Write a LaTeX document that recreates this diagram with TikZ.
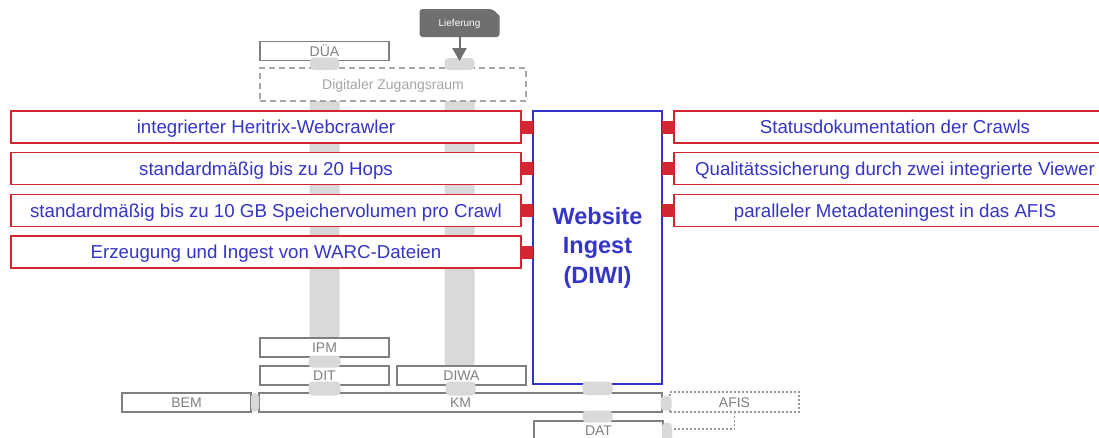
\documentclass[tikz,border=0pt]{standalone}
\usepackage{fontspec}
\setmainfont{Liberation Sans}
\usetikzlibrary{calc,arrows.meta}
\definecolor{redc}{HTML}{D32630}
\definecolor{bluet}{HTML}{3535C8}
\definecolor{blueb}{HTML}{3333CC}
\definecolor{grayb}{HTML}{7F7F7F}
\definecolor{grayt}{HTML}{808080}
\definecolor{padc}{HTML}{D9D9D9}
\definecolor{dzc}{HTML}{A6A6A6}
\definecolor{liefc}{HTML}{6F6F6F}
\definecolor{afisc}{HTML}{999999}
\begin{document}
\begin{tikzpicture}[x=1pt,y=-1pt,
  every node/.style={inner sep=0pt, outer sep=0pt},
  graybox/.style={draw=grayb, line width=1.6pt, fill=white, text=grayt,
    font=\fontsize{14}{16}\selectfont, text height=10pt, text depth=0pt,
    minimum width=129pt, minimum height=19pt},
  dzbox/.style={draw=dzc, line width=1.5pt, dash pattern=on 6pt off 4pt, fill=white, text=dzc,
    font=\fontsize{14}{16}\selectfont, text height=10pt, text depth=0pt,
    minimum width=266pt, minimum height=33pt},
  afisbox/.style={draw=afisc, line width=1.8pt, dash pattern=on 2pt off 2pt, fill=white, text=grayt,
    font=\fontsize{14}{16}\selectfont, text height=10pt, text depth=0pt,
    minimum width=129pt, minimum height=20pt},
  redbox/.style={draw=redc, line width=1.8pt, fill=white, text=bluet,
    font=\fontsize{18.7}{22}\selectfont, text height=13.4pt, text depth=0pt,
    minimum height=32pt},
  leftbox/.style={redbox, minimum width=510pt},
  rightbox/.style={redbox, minimum width=442pt},
  diwibox/.style={draw=blueb, line width=1.5pt, fill=white, text=bluet, align=center,
    font=\bfseries\fontsize{23.5}{29.5}\selectfont, minimum width=129pt, minimum height=273pt},
  liefnode/.style={text=white, font=\fontsize{10}{12}\selectfont, text height=7.2pt, text depth=0pt,
    minimum width=80pt, minimum height=28pt},
  tab/.style={draw=redc, line width=13pt},
  pad/.style={fill=padc, rounded corners=4pt},
  dotline/.style={draw=afisc, line width=1.8pt, dash pattern=on 2pt off 2pt},
]
\useasboundingbox (0,0) rectangle (1099,437);
\clip (0,0) rectangle (1099,437);

% nodes (placed first for names; drawn in order below)
\path
  (324.5,51)   node[graybox] (DUA) {DÜA}
  (393,84.5)   node[dzbox] (DZ) {Digitaler Zugangsraum}
  (459.5,23)   node[liefnode] (Lief) {};

% long bars behind the boxes
\fill[pad] ($(DZ.south -| DUA.south)+(-15,-3)$) rectangle ($(324.5,338)+(15,1)$);
\fill[pad] ($(DZ.south -| Lief.south)+(-15,-3)$) rectangle ($(459.5,366)+(15,1)$);

% Lieferung shape
\fill[liefc, rounded corners=3pt] ($(Lief.south west)$) -- (Lief.north west)
  -- ($(Lief.north east)+(-7,0)$) [sharp corners] -- ($(Lief.north east)+(0,7)$)
  [rounded corners=3pt] -- (Lief.south east) -- cycle;
\node[liefnode] at (Lief) {Lieferung};

% redraw top boxes over bars
\node[graybox] at (DUA) {DÜA};
\node[dzbox] at (DZ) {Digitaler Zugangsraum};

\node[leftbox] (L1) at (266,127)   {integrierter Heritrix-Webcrawler};
\node[leftbox] (L2) at (266,168.5) {standardmäßig bis zu 20 Hops};
\node[leftbox] (L3) at (266,210.5) {standardmäßig bis zu 10 GB Speichervolumen pro Crawl};
\node[leftbox] (L4) at (266,252)   {Erzeugung und Ingest von WARC-Dateien};

\node[diwibox] (DIWI) at (597.5,247.5) {Website\\Ingest\\(DIWI)};

\node[rightbox] (R1) at (895,127)   {Statusdokumentation der Crawls};
\node[rightbox] (R2) at (895,168.5) {Qualitätssicherung durch zwei integrierte Viewer};
\node[rightbox] (R3) at (895,210.5) {paralleler Metadateningest in das AFIS};

\node[graybox] (IPM)  at (324.5,347.5) {IPM};
\node[graybox] (DIT)  at (324.5,375.5) {DIT};
\node[graybox] (DIWA) at (461.5,375.5) {DIWA};
\node[graybox] (BEM)  at (186.5,402.5) {BEM};
\node[graybox, minimum width=403pt] (KM) at (460.5,402.5) {KM};
\node[afisbox] (AFIS) at (734.5,402) {AFIS};
\node[graybox] (DAT)  at (598.5,430.5) {DAT};

% red tabs
\draw[tab] (L1.east) -- (L1.east -| DIWI.west);
\draw[tab] (L2.east) -- (L2.east -| DIWI.west);
\draw[tab] (L3.east) -- (L3.east -| DIWI.west);
\draw[tab] (L4.east) -- (L4.east -| DIWI.west);
\draw[tab] (R1.west) -- (R1.west -| DIWI.east);
\draw[tab] (R2.west) -- (R2.west -| DIWI.east);
\draw[tab] (R3.west) -- (R3.west -| DIWI.east);

% short pads
\fill[pad] ($(DUA.south)+(-14.5,-3)$) rectangle ($(DZ.north -| DUA.south)+(14.5,2)$);
\fill[pad] ($(Lief.south)+(-15,21)$) rectangle ($(DZ.north -| Lief.south)+(15,2)$);
\fill[pad] ($(IPM.south)+(-16,-1.5)$) rectangle ($(DIT.north)+(16,1.5)$);
\fill[pad] ($(DIT.south)+(-16,-3.5)$) rectangle ($(KM.north -| DIT.south)+(16,2.5)$);
\fill[pad] ($(DIWA.south)+(-16,-3.5)$) rectangle ($(KM.north -| DIWA.south)+(14,2.5)$);
\fill[pad] ($(BEM.north east)+(0,0)$) rectangle ($(KM.south west)+(0,0)$);
\fill[pad] ($(DIWI.south)+(-15,-2.5)$) rectangle ($(KM.north -| DIWI.south)+(15,2)$);
\fill[pad] ($(KM.south -| DIWI.south)+(-15,-1.5)$) rectangle ($(DAT.north -| DIWI.south)+(15,1.5)$);
\fill[pad] ($(KM.east)+(-1.5,-6.5)$) rectangle ($(AFIS.west)+(1.5,8.5)$);
\fill[pad] ($(DAT.east)+(-1,-8)$) rectangle ($(DAT.east)+(9,12)$);

% Lieferung arrow
\draw[liefc, line width=2pt, -{Triangle[width=14pt,length=13pt]}]
  (Lief.south) -- ($(DZ.north -| Lief.south)+(0,-7)$);

% dotted link AFIS -> DAT
\draw[dotline] (AFIS.south) |- ($(DAT.east)+(9,-1.5)$);
\end{tikzpicture}
\end{document}
